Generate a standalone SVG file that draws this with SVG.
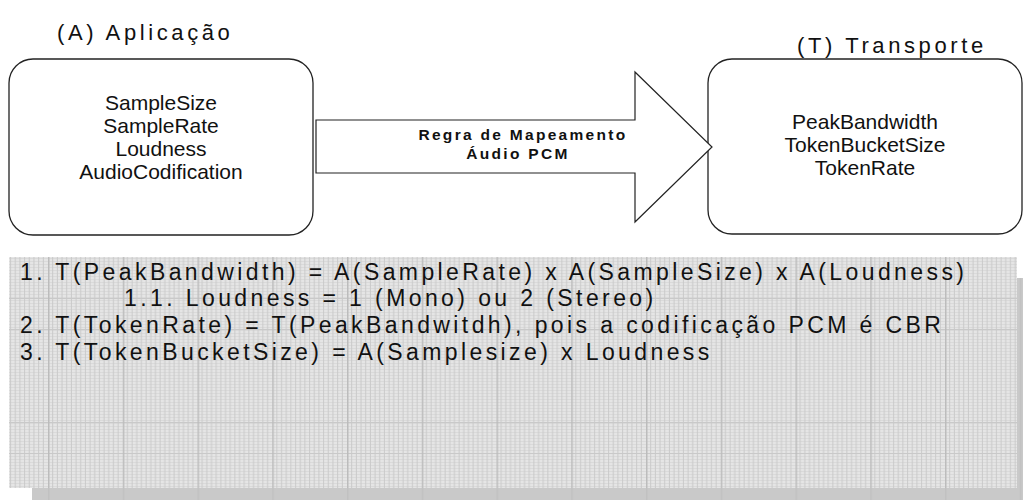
<svg xmlns="http://www.w3.org/2000/svg" width="1025" height="500" viewBox="0 0 1025 500">
  <style>
    .t { font-family: "Liberation Sans", Arial, sans-serif; fill: #111; }
    .title { font-size: 22px; letter-spacing: 3.6px; }
    .node { font-size: 21px; text-anchor: middle; }
    .lbl { font-size: 15.5px; font-weight: bold; text-anchor: middle; letter-spacing: 2.3px; }
    .rule { font-size: 23px; letter-spacing: 3.4px; }
    .box { fill: #fff; stroke: #222; stroke-width: 1.3; }
  </style>
  <defs>
    <pattern id="grid" patternUnits="userSpaceOnUse" x="48" y="298" width="74.75" height="124">
      <g stroke="#c9c9c9" stroke-width="1">
        <line x1="4.67" y1="0" x2="4.67" y2="124"/>
        <line x1="9.34" y1="0" x2="9.34" y2="124"/>
        <line x1="14.01" y1="0" x2="14.01" y2="124"/>
        <line x1="18.69" y1="0" x2="18.69" y2="124"/>
        <line x1="23.36" y1="0" x2="23.36" y2="124"/>
        <line x1="28.03" y1="0" x2="28.03" y2="124"/>
        <line x1="32.70" y1="0" x2="32.70" y2="124"/>
        <line x1="37.38" y1="0" x2="37.38" y2="124"/>
        <line x1="42.05" y1="0" x2="42.05" y2="124"/>
        <line x1="46.72" y1="0" x2="46.72" y2="124"/>
        <line x1="51.39" y1="0" x2="51.39" y2="124"/>
        <line x1="56.06" y1="0" x2="56.06" y2="124"/>
        <line x1="60.73" y1="0" x2="60.73" y2="124"/>
        <line x1="65.41" y1="0" x2="65.41" y2="124"/>
        <line x1="70.08" y1="0" x2="70.08" y2="124"/>
        <line x1="0" y1="0.5" x2="74.75" y2="0.5"/>
        <line x1="0" y1="31.5" x2="74.75" y2="31.5"/>
      </g>
      <line x1="0.5" y1="0" x2="0.5" y2="124" stroke="#bcbcbc" stroke-width="2"/>
    </pattern>
    <pattern id="stripe" patternUnits="userSpaceOnUse" width="10" height="3">
      <rect x="0" y="0" width="10" height="1" fill="#dadada"/>
    </pattern>
  </defs>

  <g id="rules-panel">
    <rect x="32" y="278" width="991" height="222" fill="#c9c9c9"/>
    <rect x="32" y="278" width="991" height="222" fill="url(#grid)" opacity="0.6"/>
    <rect x="9" y="257" width="1008" height="231" fill="#e5e5e5"/>
    <rect x="9" y="257" width="1008" height="231" fill="url(#stripe)"/>
    <rect x="9" y="257" width="1008" height="231" fill="url(#grid)"/>
    <text class="t rule" x="20" y="280">1. T(PeakBandwidth) = A(SampleRate) x A(SampleSize) x A(Loudness)</text>
    <text class="t rule" x="124" y="306">1.1. Loudness = 1 (Mono) ou 2 (Stereo)</text>
    <text class="t rule" x="20" y="333">2. T(TokenRate) = T(PeakBandwitdh), pois a codificação PCM é CBR</text>
    <text class="t rule" x="20" y="360">3. T(TokenBucketSize) = A(Samplesize) x Loudness</text>
  </g>

  <g id="node-aplicacao">
    <text class="t title" x="57" y="40">(A) Aplicação</text>
    <rect class="box" x="9" y="59" width="304" height="176" rx="24" ry="24"/>
    <text class="t node" x="161" y="110">SampleSize</text>
    <text class="t node" x="161" y="133">SampleRate</text>
    <text class="t node" x="161" y="156">Loudness</text>
    <text class="t node" x="161" y="179">AudioCodification</text>
  </g>

  <g id="node-transporte">
    <text class="t title" x="797" y="53">(T) Transporte</text>
    <rect class="box" x="708" y="59" width="314" height="175" rx="24" ry="24"/>
    <text class="t node" x="865" y="129">PeakBandwidth</text>
    <text class="t node" x="865" y="152">TokenBucketSize</text>
    <text class="t node" x="865" y="175">TokenRate</text>
  </g>

  <g id="connectors">
    <polygon points="316,120 635,120 635,72 712,147 635,222 635,173 316,173" fill="#fff" stroke="#222" stroke-width="1.2"/>
    <text class="t lbl" x="523" y="140">Regra de Mapeamento</text>
    <text class="t lbl" x="518" y="159">Áudio PCM</text>
  </g>
</svg>
